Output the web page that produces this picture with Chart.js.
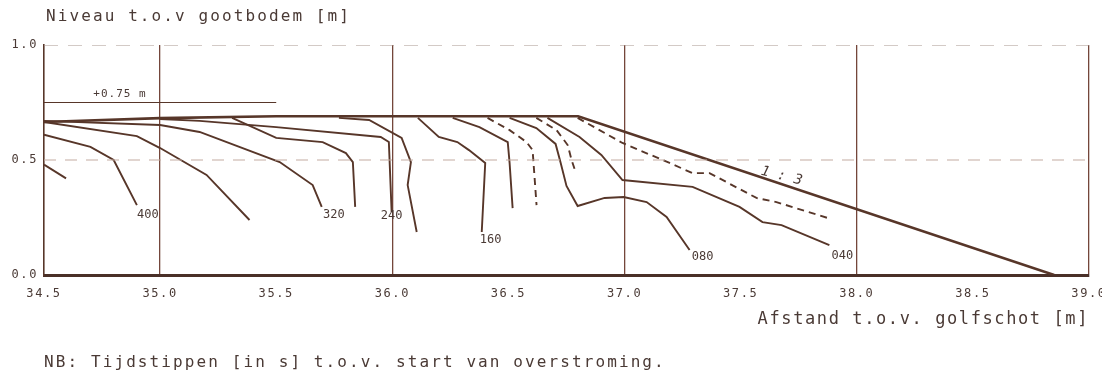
<!DOCTYPE html>
<html>
<head>
<meta charset="utf-8">
<script src="https://cdn.jsdelivr.net/npm/chart.js@4.4.1/dist/chart.umd.min.js"></script>
<style>
  html, body { margin: 0; padding: 0; background: #fff; }
  #wrap { position: relative; width: 1102px; height: 378px; }
  canvas { position: absolute; left: 0; top: 0; }
  .txt {
    position: absolute;
    font-family: "DejaVu Sans Mono", monospace;
    font-size: 16px;
    line-height: 16px;
    letter-spacing: 2.1px;
    color: #4a3a35;
    white-space: pre;
  }
</style>
</head>
<body>
<div id="wrap">
  <canvas id="chart" width="1102" height="378"></canvas>
  <div class="txt" style="left:46px; top:8px;">Niveau t.o.v gootbodem [m]</div>
  <div class="txt" style="left:44px; top:354px;">NB: Tijdstippen [in s] t.o.v. start van overstroming.</div>
</div>
<script>
// ---------------- Data (afstand [m], niveau [m]) ----------------
const xTickValues = [34.5, 35.0, 35.5, 36.0, 36.5, 37.0, 37.5, 38.0, 38.5, 39.0];
const yTickValues = [0.0, 0.5, 1.0];

const crestProfile = [[34.5, 0.665], [35.0, 0.682], [35.5, 0.69], [36.8, 0.69], [38.85, 0.0]];
const level075 = [[34.5, 0.75], [35.5, 0.75]];
const level050 = [[34.5, 0.5], [39.0, 0.5]];
const level100 = [[34.5, 1.0], [39.0, 1.0]];

const edgeShort = [[34.5, 0.48], [34.595, 0.42]];
const t400 = [[34.5, 0.61], [34.70, 0.557], [34.80, 0.50], [34.90, 0.304]];
const mid400_320 = [[34.5, 0.665], [34.90, 0.604], [35.0, 0.552], [35.20, 0.435], [35.385, 0.239]];
const t320 = [[34.5, 0.67], [35.0, 0.652], [35.17, 0.622], [35.515, 0.491], [35.657, 0.391], [35.696, 0.296]];
const mid320_240 = [[35.31, 0.683], [35.50, 0.596], [35.70, 0.578], [35.80, 0.53], [35.83, 0.491], [35.84, 0.296]];
const t240 = [[35.0, 0.678], [35.17, 0.670], [35.50, 0.643], [35.95, 0.600], [35.985, 0.578], [35.997, 0.274]];
const mid240_160 = [[35.77, 0.683], [35.90, 0.674], [36.04, 0.596], [36.08, 0.491], [36.066, 0.391], [36.105, 0.187]];
const t160 = [[36.11, 0.683], [36.20, 0.600], [36.28, 0.578], [36.33, 0.543], [36.40, 0.487], [36.385, 0.187]];
const mid160_080 = [[36.26, 0.683], [36.375, 0.643], [36.497, 0.578], [36.505, 0.487], [36.518, 0.291]];
const dashA = [[36.41, 0.683], [36.505, 0.630], [36.578, 0.578], [36.604, 0.543], [36.608, 0.487], [36.621, 0.304]];
const dashB = [[36.62, 0.683], [36.707, 0.630], [36.755, 0.565], [36.772, 0.50], [36.789, 0.448]];
const t080 = [[36.505, 0.683], [36.62, 0.639], [36.703, 0.570], [36.725, 0.487], [36.75, 0.387], [36.798, 0.30],
  [36.914, 0.335], [36.996, 0.339], [37.095, 0.317], [37.181, 0.252], [37.28, 0.109]];
const t040 = [[36.668, 0.683], [36.806, 0.600], [36.90, 0.522], [36.991, 0.413], [37.293, 0.383], [37.495, 0.296],
  [37.594, 0.230], [37.676, 0.217], [37.882, 0.130]];
const dashC = [[36.798, 0.683], [36.991, 0.574], [37.194, 0.487], [37.293, 0.443], [37.366, 0.443], [37.568, 0.335],
  [37.654, 0.317], [37.89, 0.243]];

// labels: [text, x, y]
const curveLabels = [["400", 34.947, 0.261], ["320", 35.748, 0.261], ["240", 35.997, 0.257],
  ["160", 36.423, 0.152], ["080", 37.336, 0.078], ["040", 37.938, 0.083]];
const slopeLabel = ["1 : 3", 37.676, 0.430];
const levelLabel = ["+0.75 m", 34.827, 0.787];

// ---------------- Styles ----------------
const ink = "#573629";
const gridInk = "#74463b";
const textInk = "#4a3a35";
const mono = '"DejaVu Sans Mono", monospace';

const pts = arr => arr.map(p => ({ x: p[0], y: p[1] }));

function line(data, opts) {
  return Object.assign({
    data: pts(data),
    borderColor: ink,
    borderWidth: 1.9,
    pointRadius: 0,
    tension: 0,
    fill: false
  }, opts || {});
}

const dashed = { borderDash: [7, 5] };

const datasets = [
  line(level100, { borderColor: "#a8958e", borderWidth: 1.2, borderDash: [14, 10] }),
  line(level050, { borderColor: "#c4aca2", borderWidth: 1.1, borderDash: [12, 9] }),
  line(level075, { borderWidth: 1.2 }),
  line(edgeShort),
  line(t400),
  line(mid400_320),
  line(t320),
  line(mid320_240),
  line(t240),
  line(mid240_160),
  line(t160),
  line(mid160_080),
  line(dashA, dashed),
  line(dashB, dashed),
  line(t080),
  line(t040),
  line(dashC, dashed),
  line(crestProfile, { borderWidth: 2.6 })
];

// ---------------- Labels plugin ----------------
const labelPlugin = {
  id: "curveLabels",
  beforeDraw(chart) {
    chart.ctx.letterSpacing = "1.6px";
  },
  afterDatasetsDraw(chart) {
    const { ctx, scales: { x, y } } = chart;
    ctx.save();
    ctx.fillStyle = textInk;
    ctx.textAlign = "center";
    ctx.textBaseline = "middle";

    ctx.letterSpacing = "0px";
    ctx.font = "12px " + mono;
    curveLabels.forEach(l => {
      ctx.fillText(l[0], x.getPixelForValue(l[1]), y.getPixelForValue(l[2]));
    });

    ctx.letterSpacing = "1px";
    ctx.font = "11px " + mono;
    ctx.fillText(levelLabel[0], x.getPixelForValue(levelLabel[1]), y.getPixelForValue(levelLabel[2]));

    ctx.letterSpacing = "0px";
    ctx.font = "italic 14px " + mono;
    ctx.translate(x.getPixelForValue(slopeLabel[1]), y.getPixelForValue(slopeLabel[2]));
    ctx.rotate(14 * Math.PI / 180);
    ctx.fillText(slopeLabel[0], 0, 0);
    ctx.restore();
  }
};

// ---------------- Chart ----------------
new Chart(document.getElementById("chart").getContext("2d"), {
  type: "line",
  data: { datasets },
  options: {
    responsive: false,
    animation: false,
    devicePixelRatio: 1,
    layout: { padding: { top: 45, right: 13, bottom: 43, left: 0 } },
    plugins: {
      legend: { display: false },
      tooltip: { enabled: false }
    },
    scales: {
      x: {
        type: "linear",
        min: 34.5,
        max: 39.0,
        afterBuildTicks: s => { s.ticks = xTickValues.map(v => ({ value: v })); },
        afterFit: s => { s.height = 60; s.paddingLeft = 0; s.paddingRight = 0; },
        ticks: {
          color: textInk,
          font: { family: mono, size: 12 },
          padding: 12,
          maxRotation: 0,
          autoSkip: false,
          callback: v => v.toFixed(1)
        },
        grid: {
          drawTicks: false,
          color: c => (c.tick && Number.isInteger(c.tick.value) ? gridInk : "rgba(0,0,0,0)"),
          lineWidth: 1.3
        },
        border: { display: true, color: "#4a3028", width: 3 },
        title: {
          display: true,
          text: "Afstand t.o.v. golfschot [m]",
          align: "end",
          color: textInk,
          font: { family: mono, size: 17 },
          padding: { top: 0, bottom: 5 }
        }
      },
      y: {
        type: "linear",
        min: 0,
        max: 1.0,
        afterBuildTicks: s => { s.ticks = yTickValues.map(v => ({ value: v })); },
        afterFit: s => { s.width = 44; s.paddingTop = 0; s.paddingBottom = 0; },
        ticks: {
          color: textInk,
          font: { family: mono, size: 12 },
          padding: 6,
          callback: v => v.toFixed(1)
        },
        grid: { display: false, drawTicks: false },
        border: { display: true, color: ink, width: 1.6 }
      }
    }
  },
  plugins: [labelPlugin]
});
</script>
</body>
</html>
